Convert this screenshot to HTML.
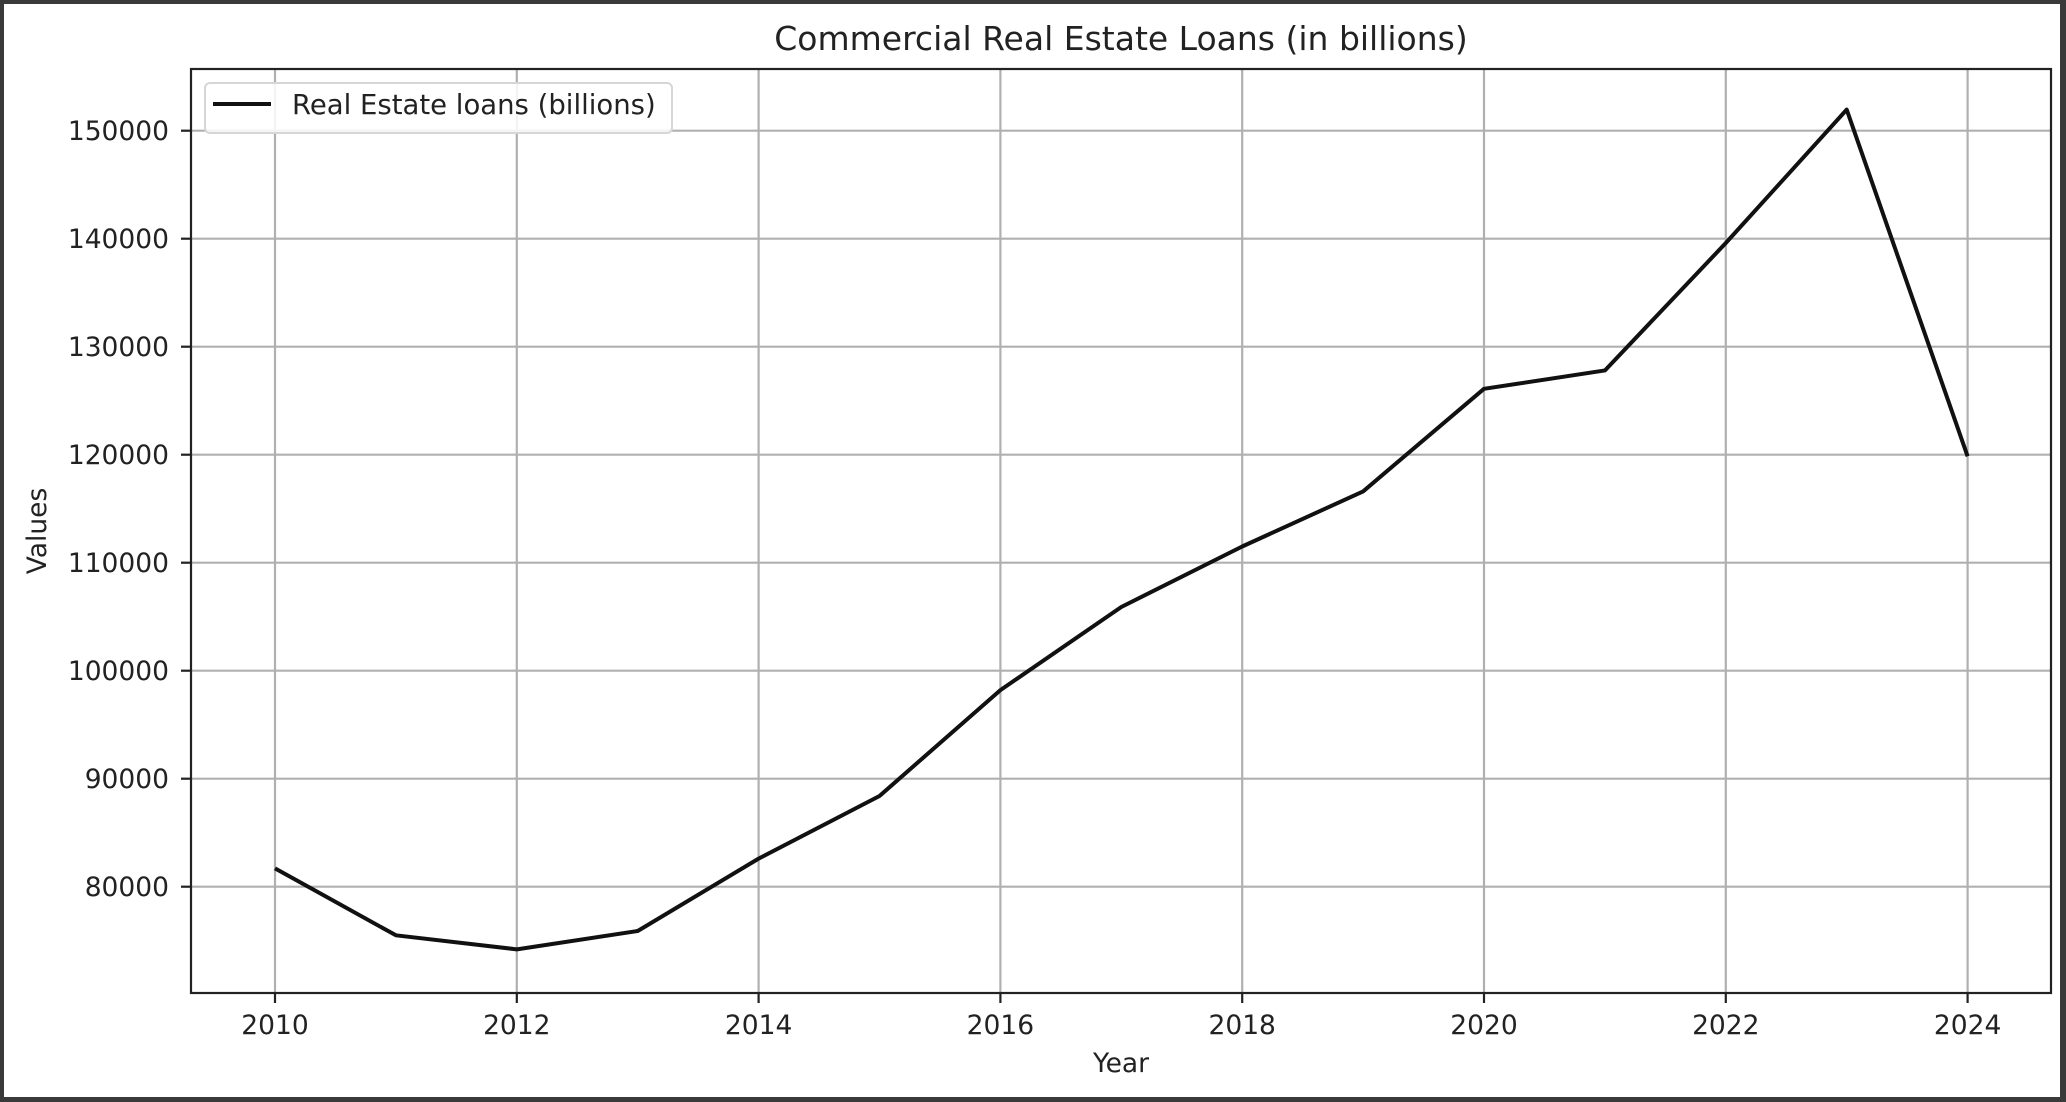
<!DOCTYPE html>
<html><head><meta charset="utf-8"><style>
html,body{margin:0;padding:0;background:#3a3a3a;}
#frame{position:absolute;left:4px;top:4px;width:2056px;height:1093px;background:#fff;}
svg{position:absolute;left:0;top:0;}
text{font-family:"DejaVu Sans","Liberation Sans",sans-serif;fill:#222;}
</style></head><body>
<div id="frame"></div>
<svg id="chart" width="2066" height="1102"></svg>
<script>
const years = [2010,2011,2012,2013,2014,2015,2016,2017,2018,2019,2020,2021,2022,2023,2024];
const loanValues = [81700,75500,74200,75900,82600,88400,98200,105900,111500,116600,126100,127800,139600,151950,119850];
const xTickLabels = [2010,2012,2014,2016,2018,2020,2022,2024];
const yTickLabels = [80000,90000,100000,110000,120000,130000,140000,150000];

const L=191,R=2051,T=69,B=993;
const X0=2010,XPX=120.9,XPIX0=275;
const yRef=150000,yRefPx=130.7,yPer=10.8/1000;
function sx(v){return XPIX0+(v-X0)*XPX;}
function sy(v){return yRefPx-(v-yRef)*yPer;}
const NS='http://www.w3.org/2000/svg';
const svg=document.getElementById('chart');
function mk(tag,attrs,parent){const e=document.createElementNS(NS,tag);for(const k in attrs)e.setAttribute(k,attrs[k]);(parent||svg).appendChild(e);return e;}

xTickLabels.forEach(t=>{
  const g=mk('line',{x1:sx(t),x2:sx(t),y1:T,y2:B,stroke:'#b0b0b0','stroke-width':2.2});
  
  
  const tk=mk('line',{x1:sx(t),x2:sx(t),y1:B,y2:B+10,stroke:'#222','stroke-width':2.2});
  
  
  const tx=mk('text',{x:sx(t),y:1034,'font-size':26.5,'text-anchor':'middle'});
  tx.textContent=t;
  
  
});
yTickLabels.forEach(t=>{
  const g=mk('line',{x1:L,x2:R,y1:sy(t),y2:sy(t),stroke:'#b0b0b0','stroke-width':2.2});
  
  
  const tk=mk('line',{x1:L-10,x2:L,y1:sy(t),y2:sy(t),stroke:'#222','stroke-width':2.2});
  
  
  const tx=mk('text',{x:169,y:sy(t)+9.5,'font-size':26.5,'text-anchor':'end'});
  tx.textContent=t;
  
  
});

const pts=years.map((y,i)=>sx(y)+','+sy(loanValues[i])).join(' ');
const line=mk('polyline',{points:pts,fill:'none',stroke:'#111','stroke-width':4,'stroke-linejoin':'round'});



const sp=mk('rect',{x:L,y:T,width:R-L,height:B-T,fill:'none',stroke:'#222','stroke-width':2.2});



const lg=mk('g',{});


mk('rect',{x:205,y:83,width:467,height:50,rx:5,fill:'rgba(255,255,255,0.85)',stroke:'#d6d6d6','stroke-width':2},lg);
mk('line',{x1:213,x2:271,y1:104,y2:104,stroke:'#111','stroke-width':4},lg);
const lt=mk('text',{x:292,y:114,'font-size':27.5},lg);
lt.textContent='Real Estate loans (billions)';



const ti=mk('text',{x:1121,y:50,'font-size':33,'text-anchor':'middle'});
ti.textContent='Commercial Real Estate Loans (in billions)';


const xl=mk('text',{x:1121,y:1072,'font-size':26.5,'text-anchor':'middle'});
xl.textContent='Year';


const yl=mk('text',{x:46,y:531,'font-size':26.5,'text-anchor':'middle',transform:'rotate(-90 46 531)'});
yl.textContent='Values';


</script>
</body></html>
